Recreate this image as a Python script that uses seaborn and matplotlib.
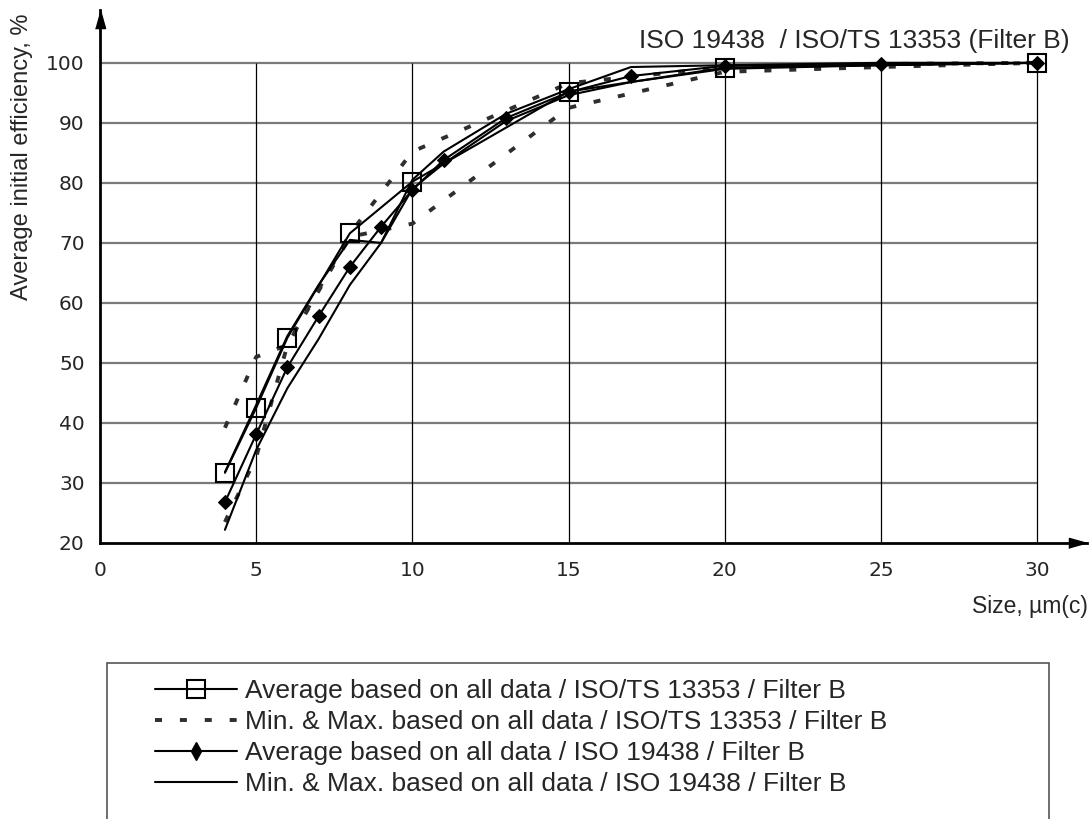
import matplotlib
matplotlib.use("Agg")
import matplotlib.pyplot as plt
import seaborn as sns
import pandas as pd
from matplotlib.patches import Rectangle
from matplotlib.lines import Line2D

# ---------------- data ----------------
size_ts_avg = [4, 5, 6, 8, 10, 15, 20, 30]
eff_ts_avg = [31.7, 42.5, 54.2, 71.6, 80.2, 95.2, 99.2, 100]

size_ts_mm = [4, 5, 6, 8, 10, 15, 20, 25, 30]
eff_ts_min = [23.5, 34.3, 53.0, 71.0, 73.2, 92.5, 98.5, 99.3, 100]
eff_ts_max = [39.2, 51.0, 53.0, 71.5, 85.2, 96.6, 99.3, 99.8, 100]

size_iso = [4, 5, 6, 7, 8, 9, 10, 11, 13, 15, 17, 20, 25, 30]
eff_iso_avg = [26.8, 38.1, 49.3, 57.8, 66.0, 72.7, 78.8, 83.8, 90.8, 95.1, 97.8, 99.5, 99.8, 100]
eff_iso_min = [22.2, 35.5, 45.8, 54.0, 63.0, 70.0, 79.0, 83.2, 90.3, 94.6, 96.8, 99.0, 99.6, 100]
eff_iso_max = [31.8, 43.0, 54.5, 63.0, 70.5, 70.0, 80.5, 85.2, 91.5, 95.6, 99.3, 99.6, 100, 100]

x_ticks = [0, 5, 10, 15, 20, 25, 30]
y_ticks = [20, 30, 40, 50, 60, 70, 80, 90, 100]

labels = [
    "Average based on all data / ISO/TS 13353 / Filter B",
    "Min. & Max. based on all data / ISO/TS 13353 / Filter B",
    "Average based on all data / ISO 19438 / Filter B",
    "Min. & Max. based on all data / ISO 19438 / Filter B",
]
title_txt = "ISO 19438  / ISO/TS 13353 (Filter B)"
xlabel_txt = "Size, \u00b5m(c)"
ylabel_txt = "Average initial efficiency, %"

# ---------------- style ----------------
sns.set_style("white")
plt.rcParams["font.family"] = ["Liberation Sans", "DejaVu Sans"]
tick_font = ["DejaVu Sans"]

W, H = 1091, 819
fig = plt.figure(figsize=(W / 100, H / 100), dpi=100)
ax = fig.add_axes([100 / W, 1 - 543 / H, 987 / W, 533 / H])
ax.set_xlim(0, 31.6)
ax.set_ylim(20, 108.8)

# grid (only inside the data frame)
ax.hlines(y_ticks[1:], x_ticks[0], x_ticks[-1], colors="#7a7a7a", lw=1.6, zorder=1)
ax.vlines(x_ticks[1:], y_ticks[0], y_ticks[-1], colors="black", lw=0.9, zorder=1)

dash_kw = dict(color="#2e2e2e", lw=2.8, dashes=(1.8, 4.6), dash_capstyle="butt")
solid_kw = dict(color="black", lw=1.5)

df_ts_mm = pd.DataFrame({"x": size_ts_mm, "lo": eff_ts_min, "hi": eff_ts_max})
df_iso = pd.DataFrame({"x": size_iso, "avg": eff_iso_avg, "lo": eff_iso_min, "hi": eff_iso_max})
df_ts = pd.DataFrame({"x": size_ts_avg, "avg": eff_ts_avg})

sns.lineplot(data=df_ts_mm, x="x", y="lo", ax=ax, zorder=3, **dash_kw)
sns.lineplot(data=df_ts_mm, x="x", y="hi", ax=ax, zorder=3, **dash_kw)
sns.lineplot(data=df_iso, x="x", y="lo", ax=ax, zorder=3, **solid_kw)
sns.lineplot(data=df_iso, x="x", y="hi", ax=ax, zorder=3, **solid_kw)
sns.lineplot(data=df_ts, x="x", y="avg", ax=ax, zorder=4, color="black", lw=1.5,
             marker="s", ms=13, mfc="none", mec="black", mew=1.5)
sns.lineplot(data=df_iso, x="x", y="avg", ax=ax, zorder=5, color="black", lw=1.5,
             marker="D", ms=7, mfc="black", mec="black")

# axes
for s in ("top", "right"):
    ax.spines[s].set_visible(False)
for s in ("left", "bottom"):
    ax.spines[s].set_linewidth(2.0)
    ax.spines[s].set_color("black")
    ax.spines[s].set_zorder(6)
ax.plot(0, 1, marker=[(-0.28, -1), (0.28, -1), (0, 0)], ms=26, color="black",
        transform=ax.transAxes, clip_on=False, zorder=7)
ax.plot(1, 0, marker=[(-1, -0.28), (-1, 0.28), (0, 0)], ms=26, color="black",
        transform=ax.transAxes, clip_on=False, zorder=7)

ax.set_xticks(x_ticks)
ax.set_yticks(y_ticks)
ax.set_xticklabels([str(v) for v in x_ticks], family=tick_font, fontsize=14.5)
ax.set_yticklabels([str(v) for v in y_ticks], family=tick_font, fontsize=14.5)
ax.tick_params(axis="both", length=0)
ax.tick_params(axis="x", pad=13)
ax.tick_params(axis="y", pad=11)
ax.set_xlabel("")
ax.set_ylabel("")

fig.text(22 / W, 1 - 157 / H, ylabel_txt, rotation=90, ha="center", va="center", fontsize=17)
fig.text(1070 / W, 1 - 41 / H, title_txt, ha="right", va="center", fontsize=19)
fig.text(1088 / W, 1 - 606 / H, xlabel_txt, ha="right", va="center", fontsize=16.5)

# legend
handles = [
    Line2D([], [], color="black", lw=1.5, marker="s", ms=13, mfc="none", mew=1.5),
    Line2D([], [], **dash_kw),
    Line2D([], [], color="black", lw=1.5, marker="d", ms=9, mfc="black"),
    Line2D([], [], **solid_kw),
]
leg = fig.legend(handles, labels, loc="upper left", bbox_to_anchor=(155 / W, 1 - 679 / H),
                 frameon=False, fontsize=19, borderpad=0, borderaxespad=0,
                 handlelength=3.1, handletextpad=0.3, labelspacing=0.27, markerfirst=True)
fig.patches.append(Rectangle((107 / W, -0.05), (1049 - 107) / W, 1 - 663 / H + 0.05,
                             transform=fig.transFigure, fill=False, ec="#555555", lw=1.2))

fig.savefig("out.png", dpi=100)
